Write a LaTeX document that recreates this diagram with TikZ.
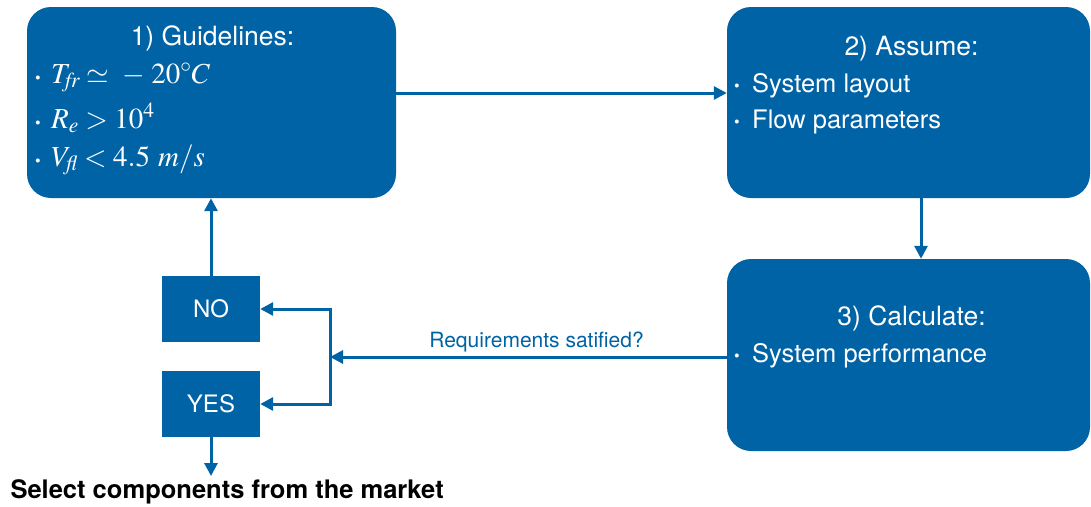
\documentclass[tikz,border=0pt]{standalone}
\usepackage{mathptmx}
\usepackage{fontspec}
\setmainfont{TeX Gyre Heros}
\usetikzlibrary{arrows.meta}
\definecolor{boxblue}{RGB}{0,99,166}
\begin{document}
\begin{tikzpicture}[x=1pt,y=-1pt,
  stage/.style={fill=boxblue, draw=none, rounded corners=24pt, inner sep=0pt},
  answer/.style={fill=boxblue, draw=none, inner sep=0pt, minimum width=98pt,
    minimum height=66pt, text=white, font=\fontsize{24}{28}\selectfont},
  title/.style={text=white, anchor=base, inner sep=1pt, font=\fontsize{26.5}{30}\selectfont},
  item/.style={text=white, anchor=base west, inner sep=1pt, font=\fontsize{25.5}{30}\selectfont},
  formula/.style={text=white, anchor=base west, inner sep=0pt, font=\fontsize{29}{34}\selectfont},
  dot/.style={text=white, anchor=base, inner sep=0pt, font=\fontsize{16}{18}\selectfont},
  flow/.style={draw=boxblue, line width=3pt,
    -{Triangle[length=13pt,width=13pt]}}]
\useasboundingbox (0,0) rectangle (1091,506);

% stage boxes
\node[stage, minimum width=369pt, minimum height=191pt] (guide) at (211.5,102.5) {};
\node[stage, minimum width=363pt, minimum height=191pt] (assume) at (908.5,102.5) {};
\node[stage, minimum width=363pt, minimum height=192pt] (calc) at (908.5,355) {};

% decision boxes
\node[answer] (no) at (211,309) {NO};
\node[answer] (yes) at (211,404) {YES};

% 1) guidelines
\node[title] (gtitle) at (212.5,45) {1) Guidelines:};
\node[dot] (gb1) at (38,83) {\textbullet};
\node[dot] (gb2) at (38,128) {\textbullet};
\node[dot] (gb3) at (38,166) {\textbullet};
\node[formula] (g1) at (51,83) {$T_{\mathit{fr}} \simeq\; -\; 20^{\circ}C$};
\node[formula] (g2) at (51,128) {$R_{e} > 10^{4}$};
\node[formula] (g3) at (51,166) {$V_{\mathit{fl}} < 4.5\ m/s$};

% 2) assume
\node[title] (atitle) at (911.5,55) {2) Assume:};
\node[dot] (ab1) at (737,91) {\textbullet};
\node[dot] (ab2) at (737,127) {\textbullet};
\node[item] (a1) at (751,92) {System layout};
\node[item] (a2) at (751,128) {Flow parameters};

% 3) calculate
\node[title] (ctitle) at (911.5,325) {3) Calculate:};
\node[dot] (cb1) at (737,361) {\textbullet};
\node[item] (c1) at (751,362) {System performance};

% question label and result
\node[anchor=base, text=boxblue, font=\fontsize{21}{25}\selectfont] (ask) at (536.5,347) {Requirements satified?};
\node[anchor=base west, font=\bfseries\fontsize{25.5}{30}\selectfont] (market) at (7,498) {Select components from the market};

% connectors
\coordinate (split) at (330,357);
\coordinate (out) at (211,476);
\draw[flow] ([yshift=9.5pt]guide.east) -- ([yshift=9.5pt]assume.west);
\draw[flow] ([xshift=12.5pt]assume.south) -- ([xshift=12.5pt]calc.north);
\draw[flow] ([yshift=-2pt]calc.west) -- (split);
\draw[flow] (split) |- (no.east);
\draw[flow] (split) |- (yes.east);
\draw[flow] (no.north) -- (no.north |- guide.south);
\draw[flow] (yes.south) -- (out);
\end{tikzpicture}
\end{document}
